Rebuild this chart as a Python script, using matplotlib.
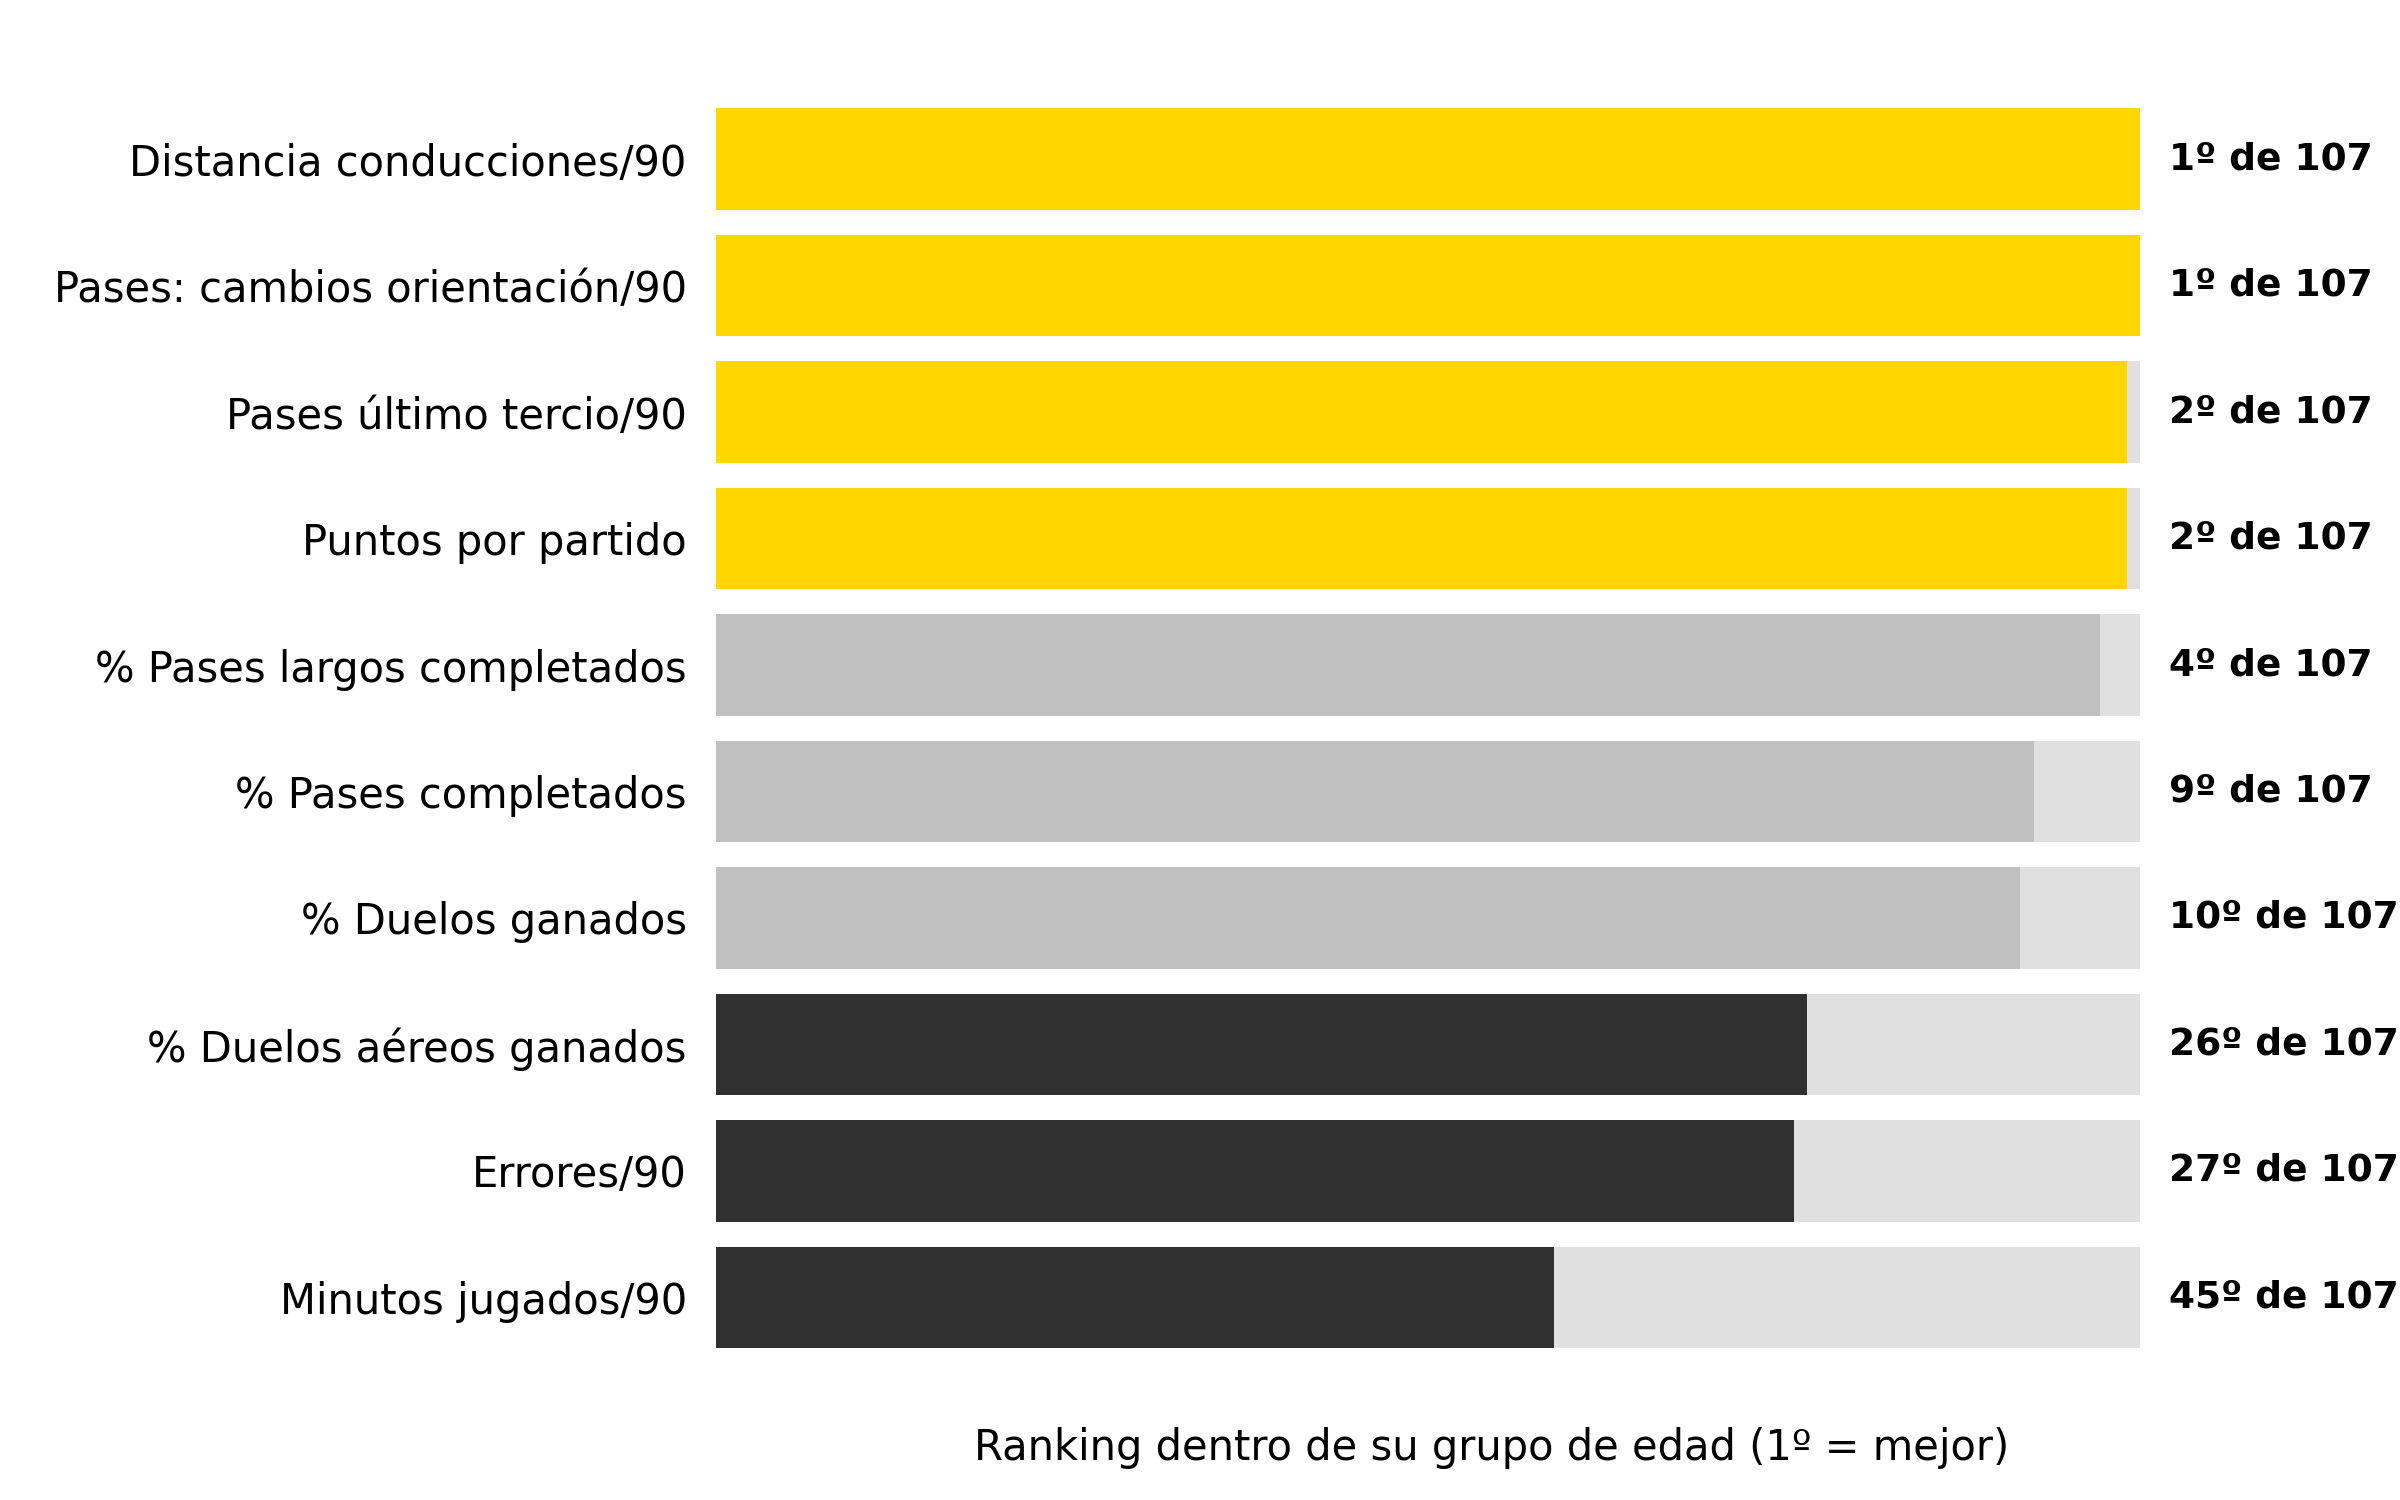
import matplotlib
matplotlib.use("Agg")
import matplotlib.pyplot as plt

# ranking within age group (1 = best), out of TOTAL players
metrics = [
    "Distancia conducciones/90",
    "Pases: cambios orientación/90",
    "Pases último tercio/90",
    "Puntos por partido",
    "% Pases largos completados",
    "% Pases completados",
    "% Duelos ganados",
    "% Duelos aéreos ganados",
    "Errores/90",
    "Minutos jugados/90",
]
ranks = [1, 1, 2, 2, 4, 9, 10, 26, 27, 45]
TOTAL = 107
tiers = ["top", "top", "top", "top", "high", "high", "high", "mid", "mid", "mid"]

TIER_COLORS = {"top": "#FFD700", "high": "#C0C0C0", "mid": "#303030"}
BG = "#E0E0E0"

fig, ax = plt.subplots(figsize=(8, 5), dpi=300)
fig.subplots_adjust(left=0.2983, right=0.9451, bottom=0.06, top=0.969)

y = range(len(metrics))
score = [(TOTAL - r + 1) / TOTAL for r in ranks]

ax.barh(y, [1] * len(metrics), height=0.8, color=BG)
ax.barh(y, score, height=0.8, color=[TIER_COLORS[t] for t in tiers])

for i, r in enumerate(ranks):
    ax.text(1.02, i, f"{r}º de {TOTAL}", va="center", ha="left",
            fontsize=9, fontweight="bold")

ax.set_yticks(list(y))
ax.set_yticklabels(metrics, fontsize=10)
ax.invert_yaxis()
ax.set_xlim(0, 1.09)
ax.set_xticks([])
ax.tick_params(axis="y", length=0, pad=7)
for s in ax.spines.values():
    s.set_visible(False)
ax.set_xlabel("Ranking dentro de su grupo de edad (1º = mejor)", fontsize=10)

fig.savefig("out.png", dpi=300)
